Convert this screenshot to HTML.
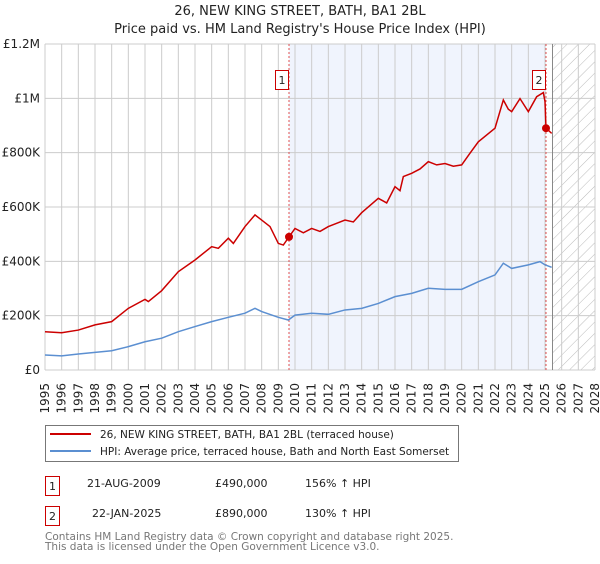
<!DOCTYPE html>
<html><head><meta charset="utf-8"><style>
body{margin:0;background:#fff;font-family:"DejaVu Sans","Liberation Sans",sans-serif;}
svg text{font-family:"DejaVu Sans","Liberation Sans",sans-serif;}
</style></head><body>
<svg id="chart" width="600" height="560" viewBox="0 0 600 560" xmlns="http://www.w3.org/2000/svg">
<defs>
<pattern id="hatch" patternUnits="userSpaceOnUse" width="8" height="8" patternTransform="rotate(45)">
<line x1="0" y1="0" x2="0" y2="8" stroke="#bbb" stroke-width="1"/>
</pattern>
</defs>
<text x="300" y="15" text-anchor="middle" font-size="13" fill="#222">26, NEW KING STREET, BATH, BA1 2BL</text>
<text x="300" y="33" text-anchor="middle" font-size="13" fill="#222">Price paid vs. HM Land Registry's House Price Index (HPI)</text>
<g id="plot"></g>
<g>
<rect x="45.5" y="425.5" width="413" height="36" fill="#fff" stroke="#777"/>
<line x1="50" y1="434" x2="91" y2="434" stroke="#cc0000" stroke-width="2"/>
<text x="100" y="438" font-size="10.5" fill="#222">26, NEW KING STREET, BATH, BA1 2BL (terraced house)</text>
<line x1="50" y1="451" x2="91" y2="451" stroke="#5b8fd1" stroke-width="2"/>
<text x="100" y="455" font-size="10.5" fill="#222">HPI: Average price, terraced house, Bath and North East Somerset</text>
</g>
<g font-size="11" fill="#222">
<rect x="45.5" y="476.5" width="14" height="19" fill="#fff" stroke="#cc0000"/>
<text x="52.5" y="490" text-anchor="middle">1</text>
<text x="87" y="487">21-AUG-2009</text>
<text x="215" y="487">£490,000</text>
<text x="305" y="487">156% ↑ HPI</text>
<rect x="45.5" y="506.5" width="14" height="19" fill="#fff" stroke="#cc0000"/>
<text x="52.5" y="520" text-anchor="middle">2</text>
<text x="92" y="517">22-JAN-2025</text>
<text x="215" y="517">£890,000</text>
<text x="305" y="517">130% ↑ HPI</text>
</g>
<text x="45" y="540" font-size="10.5" fill="#777">Contains HM Land Registry data © Crown copyright and database right 2025.</text>
<text x="45" y="550" font-size="10.5" fill="#777">This data is licensed under the Open Government Licence v3.0.</text>
</svg>
<script>
const hpiYears=[1995,1996,1997,1998,1999,2000,2001,2002,2003,2004,2005,2006,2007,2007.6,2008,2009,2009.6,2010,2011,2012,2013,2014,2015,2016,2017,2018,2019,2020,2021,2022,2022.5,2023,2024,2024.7,2025,2025.4];
const hpiValues=[55,52,59,65,71,86,104,117,141,160,178,194,209,227,215,194,184,202,209,205,221,227,245,270,282,301,297,297,325,350,393,374,387,399,387,378];
const priceYears=[1995,1996,1997,1998,1999,2000,2001,2001.2,2002,2003,2004,2005,2005.4,2006,2006.3,2007,2007.6,2008,2008.5,2009,2009.3,2009.64,2010,2010.5,2011,2011.5,2012,2012.5,2013,2013.5,2014,2015,2015.5,2016,2016.3,2016.5,2017,2017.5,2018,2018.5,2019,2019.5,2020,2020.5,2021,2022,2022.5,2022.8,2023,2023.5,2024,2024.5,2024.9,2025.0,2025.06,2025.4];
const priceValues=[141,137,147,166,178,227,260,252,292,362,405,454,448,485,466,528,571,552,528,466,460,490,521,505,521,510,528,540,552,545,579,632,615,675,660,712,724,740,767,755,760,750,755,798,840,890,994,960,951,999,951,1006,1021,988,890,871];
const saleYears=[2009.64,2025.06];
const saleValues=[490,890];
const saleLabels=["1","2"];
const yTickValues=[0,200,400,600,800,1000,1200];
const yTickLabels=["£0","£200K","£400K","£600K","£800K","£1M","£1.2M"];
const xTickYears=[1995,1996,1997,1998,1999,2000,2001,2002,2003,2004,2005,2006,2007,2008,2009,2010,2011,2012,2013,2014,2015,2016,2017,2018,2019,2020,2021,2022,2023,2024,2025,2026,2027,2028];
const dataEnd=2025.45;

const L=45,R=595,T=44,B=370;
const x=y=>L+(y-1995)*(R-L)/33;
const yv=v=>B-v*(B-T)/1200;
const NS="http://www.w3.org/2000/svg";
const g=document.getElementById('plot');
function mk(tag,attrs){const e=document.createElementNS(NS,tag);for(const k in attrs)e.setAttribute(k,attrs[k]);g.appendChild(e);return e;}

let e=mk('rect',{x:L,y:T,width:R-L,height:B-T,fill:'#fff'});


e=mk('rect',{x:x(saleYears[0]),y:T,width:x(saleYears[1])-x(saleYears[0]),height:B-T,fill:'#f0f4fd'});


e=mk('rect',{x:x(dataEnd),y:T,width:R-x(dataEnd),height:B-T,fill:'url(#hatch)'});


xTickYears.forEach(yr=>{
  const l=mk('line',{x1:x(yr),x2:x(yr),y1:T,y2:B,stroke:'#cccccc','stroke-width':1});
  
  
  const t=mk('text',{x:0,y:0,'font-size':12,fill:'#222','text-anchor':'end',transform:`translate(${x(yr)+4},383) rotate(-90)`});
  t.textContent=yr;
  
  
});
yTickValues.forEach((v,i)=>{
  const l=mk('line',{x1:L,x2:R,y1:yv(v),y2:yv(v),stroke:'#cccccc','stroke-width':1});
  
  
  const t=mk('text',{x:40,y:yv(v)+4,'font-size':12,fill:'#222','text-anchor':'end'});
  t.textContent=yTickLabels[i];
  
  
});
e=mk('line',{x1:x(dataEnd),x2:x(dataEnd),y1:T,y2:B,stroke:'#888','stroke-width':1});


saleYears.forEach((yr,i)=>{
  const l=mk('line',{x1:x(yr),x2:x(yr),y1:T,y2:B,stroke:'#e05050','stroke-width':1,'stroke-dasharray':'2,2'});
  
  
});
e=mk('polyline',{points:hpiYears.map((yr,i)=>x(yr)+','+yv(hpiValues[i])).join(' '),fill:'none',stroke:'#5b8fd1','stroke-width':1.5});


e=mk('polyline',{points:priceYears.map((yr,i)=>x(yr)+','+yv(priceValues[i])).join(' '),fill:'none',stroke:'#cc0000','stroke-width':1.5});


saleYears.forEach((yr,i)=>{
  const c=mk('circle',{cx:x(yr),cy:yv(saleValues[i]),r:4,fill:'#cc0000'});
  
  
  const bx=x(yr)-14;
  const r=mk('rect',{x:bx+0.5,y:70.5,width:13,height:19,fill:'#fff',stroke:'#cc0000'});
  
  
  const t=mk('text',{x:bx+7,y:84,'font-size':11,fill:'#222','text-anchor':'middle'});
  t.textContent=saleLabels[i];
  
  
});
</script>
</body></html>
